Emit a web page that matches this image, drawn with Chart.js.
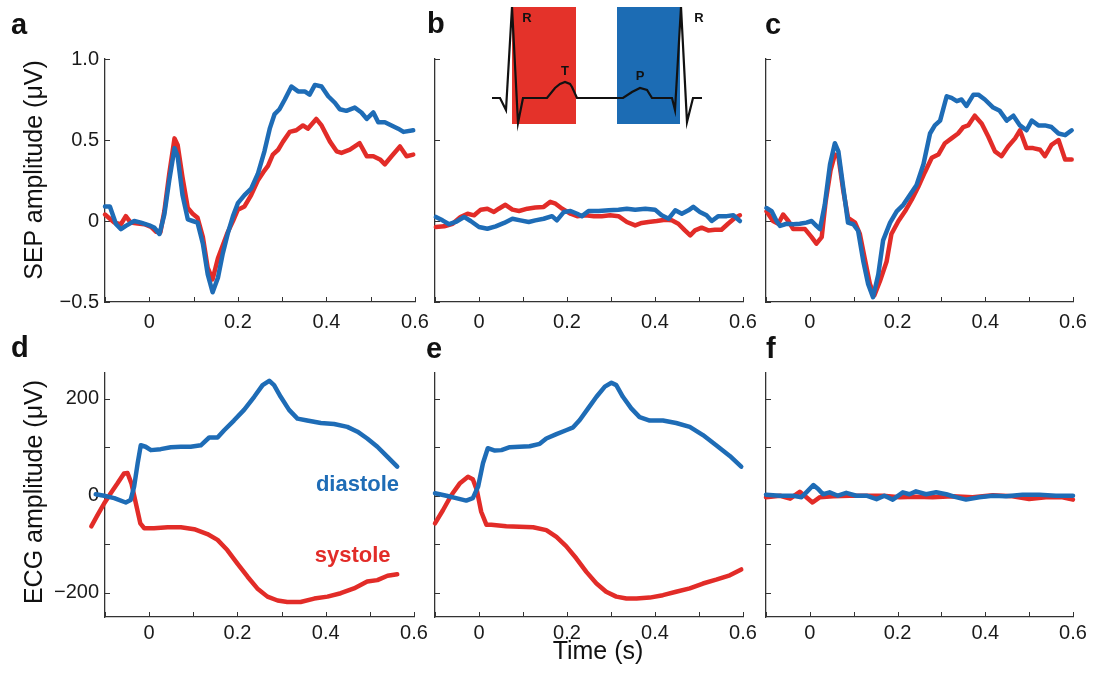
<!DOCTYPE html>
<html>
<head>
<meta charset="utf-8">
<script src="https://cdn.jsdelivr.net/npm/chart.js@4.4.1/dist/chart.umd.min.js"></script>
<style>
  body { margin: 0; background: #fff; }
  #fig { position: relative; width: 1096px; height: 679px; overflow: hidden; font-family: "Liberation Sans", Arial, sans-serif; color: #111; }
  #fig canvas { position: absolute; }
  .tag { position: absolute; font-weight: bold; font-size: 29px; line-height: 1; }
  .axt { position: absolute; font-size: 25px; line-height: 1; white-space: nowrap; transform: translate(-50%, -50%); }
  .rot { transform: translate(-50%, -50%) rotate(-90deg); }
</style>
</head>
<body>
<div id="fig">
  <canvas id="pa"></canvas>
  <canvas id="pb"></canvas>
  <canvas id="pc"></canvas>
  <canvas id="pd"></canvas>
  <canvas id="pe"></canvas>
  <canvas id="pf"></canvas>
  <canvas id="inset"></canvas>

  <div class="tag" style="left:11px;top:10px">a</div>
  <div class="tag" style="left:427px;top:9px">b</div>
  <div class="tag" style="left:765px;top:10px">c</div>
  <div class="tag" style="left:11px;top:333px">d</div>
  <div class="tag" style="left:426px;top:334px">e</div>
  <div class="tag" style="left:766px;top:334px">f</div>

  <div class="axt rot" style="left:33px;top:170px">SEP amplitude (μV)</div>
  <div class="axt rot" style="left:33px;top:492px">ECG amplitude (μV)</div>
  <div class="axt" style="left:598px;top:650px">Time (s)</div>
</div>

<script>
// tick labels
const xTickText = ['0', '0.2', '0.4', '0.6'];
const sepTickValues = [-0.5, 0, 0.5, 1.0];
const sepTickText = ['\u22120.5', '0', '0.5', '1.0'];
const ecgTickMarks = [-200, -100, 0, 100, 200];
const ecgTickValues = [-200, 0, 200];
const ecgTickText = ['\u2212200', '0', '200'];

// [time (s), amplitude] pairs
// a: SEP, all trials
const aDiastole = [[-0.100,0.09],[-0.089,0.09],[-0.075,-0.02],[-0.064,-0.05],[-0.053,-0.03],[-0.034,0.0],[-0.019,-0.01],[0.000,-0.027],[0.011,-0.04],[0.023,-0.08],[0.034,0.04],[0.045,0.25],[0.057,0.45],[0.064,0.40],[0.075,0.16],[0.087,0.01],[0.098,0.0],[0.109,-0.01],[0.121,-0.14],[0.132,-0.33],[0.143,-0.44],[0.155,-0.35],[0.166,-0.20],[0.177,-0.08],[0.189,0.03],[0.200,0.11],[0.215,0.16],[0.230,0.20],[0.245,0.29],[0.260,0.43],[0.272,0.57],[0.283,0.66],[0.294,0.69],[0.306,0.75],[0.321,0.83],[0.336,0.80],[0.351,0.80],[0.362,0.78],[0.374,0.84],[0.389,0.83],[0.404,0.77],[0.419,0.73],[0.430,0.69],[0.445,0.68],[0.464,0.70],[0.479,0.67],[0.491,0.63],[0.506,0.67],[0.517,0.61],[0.532,0.61],[0.547,0.59],[0.562,0.57],[0.574,0.55],[0.596,0.56]];
const aSystole = [[-0.100,0.04],[-0.079,-0.01],[-0.064,-0.02],[-0.053,0.03],[-0.042,-0.01],[-0.026,-0.016],[-0.011,-0.02],[0.004,-0.037],[0.015,-0.066],[0.025,-0.07],[0.034,0.06],[0.045,0.29],[0.057,0.51],[0.064,0.47],[0.075,0.27],[0.087,0.08],[0.098,0.045],[0.109,0.02],[0.121,-0.10],[0.132,-0.29],[0.143,-0.36],[0.155,-0.23],[0.166,-0.15],[0.177,-0.07],[0.189,0.0],[0.200,0.07],[0.215,0.09],[0.230,0.16],[0.245,0.25],[0.257,0.30],[0.268,0.34],[0.279,0.41],[0.291,0.44],[0.302,0.49],[0.317,0.55],[0.332,0.56],[0.347,0.59],[0.358,0.57],[0.377,0.63],[0.389,0.59],[0.408,0.49],[0.423,0.43],[0.434,0.42],[0.453,0.44],[0.475,0.48],[0.491,0.40],[0.506,0.40],[0.521,0.38],[0.532,0.35],[0.547,0.40],[0.566,0.46],[0.581,0.40],[0.596,0.41]];

// b: SEP, ECG-matched
const bDiastole = [[-0.098,0.025],[-0.083,0.004],[-0.068,-0.02],[-0.053,-0.006],[-0.034,0.025],[-0.019,0.0],[0.000,-0.037],[0.019,-0.048],[0.038,-0.033],[0.057,-0.012],[0.076,0.014],[0.094,0.004],[0.113,-0.006],[0.128,0.004],[0.147,0.014],[0.166,0.03],[0.177,0.004],[0.193,0.056],[0.208,0.062],[0.223,0.045],[0.234,0.03],[0.249,0.062],[0.272,0.062],[0.295,0.066],[0.317,0.07],[0.336,0.076],[0.355,0.07],[0.378,0.076],[0.400,0.07],[0.415,0.035],[0.431,0.014],[0.446,0.066],[0.461,0.045],[0.476,0.066],[0.487,0.087],[0.502,0.056],[0.517,0.035],[0.529,0.0],[0.544,0.03],[0.563,0.03],[0.578,0.035],[0.593,0.0]];
const bSystole = [[-0.098,-0.037],[-0.079,-0.033],[-0.060,-0.017],[-0.042,0.025],[-0.026,0.045],[-0.011,0.035],[0.004,0.07],[0.019,0.076],[0.034,0.056],[0.045,0.076],[0.060,0.10],[0.076,0.07],[0.091,0.062],[0.110,0.076],[0.128,0.083],[0.147,0.087],[0.162,0.118],[0.174,0.107],[0.189,0.076],[0.208,0.045],[0.223,0.03],[0.242,0.035],[0.261,0.03],[0.279,0.03],[0.298,0.035],[0.317,0.03],[0.336,-0.006],[0.355,-0.027],[0.370,-0.012],[0.385,-0.006],[0.404,0.0],[0.423,0.008],[0.438,0.004],[0.453,-0.017],[0.468,-0.058],[0.480,-0.089],[0.491,-0.058],[0.506,-0.041],[0.521,-0.058],[0.536,-0.054],[0.551,-0.054],[0.566,-0.017],[0.582,0.02],[0.593,0.035]];

// c: SEP, corrected
const cDiastole = [[-0.099,0.08],[-0.087,0.06],[-0.076,0.0],[-0.068,-0.03],[-0.053,-0.017],[-0.038,-0.02],[-0.023,-0.017],[-0.008,-0.01],[0.004,0.0],[0.015,-0.03],[0.023,-0.05],[0.034,0.10],[0.046,0.35],[0.057,0.48],[0.065,0.43],[0.076,0.21],[0.087,-0.01],[0.099,-0.02],[0.110,-0.06],[0.122,-0.25],[0.133,-0.39],[0.144,-0.47],[0.156,-0.33],[0.167,-0.12],[0.183,-0.01],[0.198,0.06],[0.213,0.10],[0.228,0.16],[0.243,0.22],[0.259,0.35],[0.274,0.54],[0.285,0.59],[0.297,0.62],[0.312,0.77],[0.323,0.76],[0.335,0.74],[0.346,0.75],[0.357,0.71],[0.373,0.78],[0.384,0.78],[0.399,0.75],[0.418,0.70],[0.433,0.68],[0.449,0.62],[0.464,0.65],[0.479,0.59],[0.494,0.56],[0.506,0.62],[0.521,0.59],[0.536,0.59],[0.551,0.58],[0.567,0.54],[0.582,0.53],[0.597,0.56]];
const cSystole = [[-0.099,0.06],[-0.084,0.0],[-0.072,-0.017],[-0.061,0.04],[-0.049,0.0],[-0.038,-0.05],[-0.027,-0.05],[-0.011,-0.05],[0.004,-0.10],[0.015,-0.14],[0.027,-0.10],[0.036,0.12],[0.047,0.31],[0.057,0.41],[0.065,0.40],[0.076,0.19],[0.087,0.02],[0.103,-0.01],[0.114,-0.08],[0.125,-0.23],[0.137,-0.39],[0.147,-0.46],[0.160,-0.37],[0.175,-0.25],[0.186,-0.08],[0.202,0.0],[0.217,0.06],[0.232,0.13],[0.247,0.21],[0.262,0.30],[0.278,0.39],[0.293,0.41],[0.308,0.48],[0.323,0.51],[0.338,0.54],[0.350,0.58],[0.361,0.59],[0.376,0.65],[0.392,0.60],[0.407,0.52],[0.422,0.43],[0.437,0.40],[0.452,0.46],[0.468,0.51],[0.479,0.56],[0.494,0.45],[0.509,0.45],[0.525,0.44],[0.536,0.40],[0.551,0.47],[0.567,0.50],[0.582,0.38],[0.597,0.38]];

// d: ECG, all trials
const dDiastole = [[-0.121,3],[-0.102,0],[-0.079,-5],[-0.053,-14],[-0.042,-9],[-0.034,19],[-0.026,67],[-0.019,104],[-0.008,101],[0.004,94],[0.026,96],[0.049,100],[0.072,101],[0.094,101],[0.117,104],[0.136,120],[0.155,120],[0.170,135],[0.192,155],[0.215,177],[0.238,204],[0.257,228],[0.272,237],[0.283,228],[0.298,204],[0.317,177],[0.336,159],[0.358,155],[0.389,150],[0.419,148],[0.449,142],[0.472,132],[0.494,118],[0.517,101],[0.540,80],[0.562,60]];
const dSystole = [[-0.131,-63],[-0.117,-40],[-0.102,-16],[-0.087,5],[-0.072,25],[-0.057,46],[-0.049,47],[-0.040,25],[-0.030,-16],[-0.020,-57],[-0.011,-67],[0.011,-67],[0.042,-65],[0.072,-65],[0.102,-69],[0.132,-79],[0.155,-91],[0.177,-112],[0.200,-140],[0.223,-167],[0.245,-191],[0.268,-208],[0.291,-216],[0.313,-219],[0.343,-219],[0.374,-212],[0.404,-208],[0.434,-201],[0.464,-191],[0.494,-177],[0.517,-174],[0.540,-165],[0.562,-162]];

// e: ECG, matched
const eDiastole = [[-0.100,5],[-0.074,0],[-0.052,-5],[-0.029,-10],[-0.014,-5],[-0.002,19],[0.009,67],[0.020,98],[0.036,93],[0.051,94],[0.070,100],[0.092,101],[0.115,102],[0.138,107],[0.153,118],[0.176,127],[0.198,135],[0.214,141],[0.229,156],[0.248,180],[0.267,204],[0.286,225],[0.301,233],[0.312,228],[0.327,204],[0.346,180],[0.365,162],[0.388,155],[0.418,155],[0.448,150],[0.479,142],[0.509,125],[0.539,104],[0.570,82],[0.596,60]];
const eSystole = [[-0.100,-57],[-0.082,-30],[-0.063,1],[-0.044,25],[-0.025,39],[-0.014,34],[-0.005,12],[0.005,-33],[0.017,-60],[0.028,-60],[0.062,-63],[0.092,-64],[0.123,-65],[0.153,-71],[0.176,-85],[0.198,-104],[0.221,-129],[0.244,-157],[0.267,-181],[0.289,-198],[0.312,-208],[0.335,-212],[0.358,-212],[0.388,-210],[0.418,-205],[0.448,-198],[0.479,-191],[0.509,-181],[0.539,-173],[0.570,-164],[0.596,-152]];

// f: ECG, corrected
const fDiastole = [[-0.100,2],[-0.068,0],[-0.038,0],[-0.019,-3],[-0.008,7],[0.008,22],[0.019,14],[0.030,3],[0.045,7],[0.064,0],[0.083,6],[0.106,0],[0.129,0],[0.152,-7],[0.170,0],[0.189,-8],[0.212,7],[0.227,3],[0.242,9],[0.265,3],[0.288,7],[0.311,3],[0.333,-3],[0.356,-8],[0.386,-3],[0.417,0],[0.447,-1],[0.485,2],[0.523,2],[0.561,0],[0.600,0]];
const fSystole = [[-0.100,-3],[-0.068,0],[-0.045,-6],[-0.023,8],[-0.008,-3],[0.006,-14],[0.023,-3],[0.053,-1],[0.091,0],[0.129,0],[0.167,0],[0.205,-3],[0.242,-2],[0.280,-3],[0.326,-1],[0.371,-3],[0.417,1],[0.462,-1],[0.500,-7],[0.538,-3],[0.576,-3],[0.600,-8]];

// curve names in panel d: text, time, amplitude
const curveNames = ['diastole', 'systole'];
const curveNameT = [0.472, 0.461];
const curveNameV = [23, -124];

// ECG cartoon in panel b (arbitrary units)
const ecgSketch = [[0,0],[8,0],[14,-12],[20,91],[26,-25],[31,0],[55,0],[63,10],[68,14],[73,16],[78,14],[80,11],[85,0],[131,0],[140,6],[148,10],[155,8],[160,0],[180,0],[183,-12],[189,91],[195,-24],[201,0],[210,0]];
const systoleWindow = [20, 84];
const diastoleWindow = [125, 188];
const waveNames = ['R', 'T', 'P', 'R'];
const waveNameX = [35, 73, 148, 207];
const waveNameY = [80, 27, 22, 80];

const timeMin = -0.1, timeMax = 0.6;
const blueLine = 'rgb(30,108,182)';
const redLine = 'rgb(226,44,40)';
const axisColor = '#333';
const textColor = '#1a1a1a';
const fontFamily = '"Liberation Sans", Arial, sans-serif';

function toXY(pairs) {
    return pairs.map(p => ({ x: p[0], y: p[1] }));
}

function xLabel(v) {
    const s = String(Math.round(v * 10) / 10);
    return xTickText.includes(s) ? s : '';
}
function sepLabel(v) {
    const i = sepTickValues.findIndex(t => Math.abs(t - v) < 1e-6);
    return i < 0 ? '' : sepTickText[i];
}
function ecgLabel(v) {
    const i = ecgTickValues.findIndex(t => Math.abs(t - v) < 1e-6);
    return i < 0 ? '' : ecgTickText[i];
}

// small tick marks pointing into the plot, like the original
const inwardTicks = {
    id: 'inwardTicks',
    beforeDatasetsDraw(chart) {
        const { ctx, chartArea, scales } = chart;
        ctx.save();
        ctx.strokeStyle = axisColor;
        ctx.lineWidth = 1;
        ctx.beginPath();
        scales.x.ticks.forEach(tk => {
            const px = Math.round(scales.x.getPixelForValue(tk.value)) + 0.5;
            ctx.moveTo(px, chartArea.bottom);
            ctx.lineTo(px, chartArea.bottom - 5);
        });
        scales.y.ticks.forEach(tk => {
            const py = Math.round(scales.y.getPixelForValue(tk.value)) + 0.5;
            ctx.moveTo(chartArea.left, py);
            ctx.lineTo(chartArea.left + 5, py);
        });
        ctx.stroke();
        ctx.restore();
    }
};

// text placed at data coordinates
const dataText = {
    id: 'dataText',
    afterDatasetsDraw(chart, args, opts) {
        const items = opts.items || [];
        const { ctx, scales } = chart;
        ctx.save();
        ctx.textAlign = 'center';
        ctx.textBaseline = 'middle';
        items.forEach(it => {
            ctx.font = it.font;
            ctx.fillStyle = it.color;
            ctx.fillText(it.text, scales.x.getPixelForValue(it.x), scales.y.getPixelForValue(it.y));
        });
        ctx.restore();
    }
};

function lineSet(pairs, color) {
    return {
        data: toXY(pairs),
        borderColor: color,
        borderWidth: 4.5,
        pointRadius: 0,
        tension: 0,
        borderJoinStyle: 'round',
        borderCapStyle: 'round',
        fill: false,
        clip: false
    };
}

function buildPanel(spec) {
    const [l, t, r, b] = spec.area;
    const yw = spec.yLabels ? 105 : 10;
    const pt = 20, pr = 20, xh = 40;
    const cv = document.getElementById(spec.id);
    cv.width = yw + (r - l) + pr;
    cv.height = pt + (b - t) + xh;
    cv.style.left = (l - yw) + 'px';
    cv.style.top = (t - pt) + 'px';
    const sep = spec.kind === 'sep';

    return new Chart(cv, {
        type: 'line',
        data: {
            datasets: [lineSet(spec.blue, blueLine), lineSet(spec.red, redLine)]
        },
        options: {
            responsive: false,
            animation: false,
            events: [],
            layout: { padding: { left: 0, top: pt, right: pr, bottom: 0 } },
            plugins: {
                legend: { display: false },
                tooltip: { enabled: false },
                dataText: { items: spec.notes || [] }
            },
            scales: {
                x: {
                    type: 'linear',
                    grid: { display: false, drawTicks: false },
                    border: { color: axisColor, width: 1.3 },
                    ticks: {
                        stepSize: 0.1,
                        autoSkip: false,
                        maxRotation: 0,
                        padding: sep ? 8 : 4,
                        color: textColor,
                        font: { family: fontFamily, size: 20 },
                        callback: xLabel
                    },
                    // range set here (not via min/max) so traces starting before -0.1 are still drawn
                    afterDataLimits(s) { s.min = timeMin; s.max = timeMax; },
                    afterFit(s) { s.height = xh; s.paddingLeft = 0; s.paddingRight = 0; }
                },
                y: {
                    type: 'linear',
                    min: sep ? -0.5 : -250,
                    max: sep ? 1.0 : 253,
                    grid: { display: false, drawTicks: false },
                    border: { color: axisColor, width: 1.3 },
                    ticks: {
                        stepSize: sep ? 0.5 : 100,
                        display: spec.yLabels,
                        padding: 6,
                        color: textColor,
                        font: { family: fontFamily, size: 20 },
                        callback: sep ? sepLabel : ecgLabel
                    },
                    afterBuildTicks(s) {
                        if (!sep) s.ticks = ecgTickMarks.map(v => ({ value: v }));
                    },
                    afterFit(s) { s.width = yw; }
                }
            }
        },
        plugins: [inwardTicks, dataText]
    });
}

const dNotes = curveNames.map((name, i) => ({
    text: name,
    x: curveNameT[i],
    y: curveNameV[i],
    color: i === 0 ? blueLine : redLine,
    font: 'bold 22px ' + fontFamily
}));

const panels = [
    { id: 'pa', area: [105, 59, 415, 302], kind: 'sep', yLabels: true, blue: aDiastole, red: aSystole },
    { id: 'pb', area: [435, 59, 743, 302], kind: 'sep', yLabels: false, blue: bDiastole, red: bSystole },
    { id: 'pc', area: [766, 59, 1073, 302], kind: 'sep', yLabels: false, blue: cDiastole, red: cSystole },
    { id: 'pd', area: [105, 373, 414, 617], kind: 'ecg', yLabels: true, blue: dDiastole, red: dSystole, notes: dNotes },
    { id: 'pe', area: [435, 373, 743, 617], kind: 'ecg', yLabels: false, blue: eDiastole, red: eSystole },
    { id: 'pf', area: [766, 373, 1073, 617], kind: 'ecg', yLabels: false, blue: fDiastole, red: fSystole }
];
panels.forEach(buildPanel);

// ECG cartoon with the systole / diastole windows
const insetCanvas = document.getElementById('inset');
insetCanvas.width = 232;
insetCanvas.height = 135;
insetCanvas.style.left = '482px';
insetCanvas.style.top = '0px';

function windowSet(win, color) {
    return {
        data: [{ x: win[0], y: 91 }, { x: win[1], y: 91 }],
        borderWidth: 0,
        pointRadius: 0,
        backgroundColor: color,
        fill: 'start'
    };
}

new Chart(insetCanvas, {
    type: 'line',
    data: {
        datasets: [
            {
                data: toXY(ecgSketch),
                borderColor: '#111',
                borderWidth: 2.2,
                pointRadius: 0,
                tension: 0,
                fill: false,
                clip: false
            },
            windowSet(systoleWindow, 'rgb(228,50,42)'),
            windowSet(diastoleWindow, 'rgb(28,108,180)')
        ]
    },
    options: {
        responsive: false,
        animation: false,
        events: [],
        layout: { padding: { left: 10, top: 7, right: 11, bottom: 11 } },
        plugins: {
            legend: { display: false },
            tooltip: { enabled: false },
            dataText: {
                items: waveNames.map((n, i) => ({
                    text: n, x: waveNameX[i], y: waveNameY[i], color: '#111', font: 'bold 13px ' + fontFamily
                }))
            }
        },
        scales: {
            x: { type: 'linear', display: false, min: 0, max: 211 },
            y: { type: 'linear', display: false, min: -26, max: 91 }
        }
    },
    plugins: [dataText]
});
</script>
</body>
</html>
